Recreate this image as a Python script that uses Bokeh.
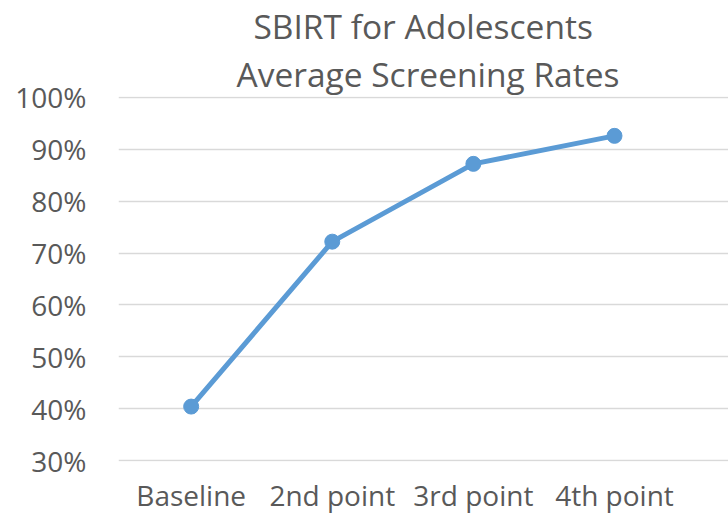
from bokeh.plotting import figure
from bokeh.models import FixedTicker, NumeralTickFormatter, Range1d, ColumnDataSource, Title
from bokeh.embed import file_html
from bokeh.resources import INLINE

categories = ["Baseline", "2nd point", "3rd point", "4th point"]
rates = [0.404, 0.722, 0.872, 0.926]
y_ticks = [0.3, 0.4, 0.5, 0.6, 0.7, 0.8, 0.9, 1.0]
title_lines = ["SBIRT for Adolescents", "Average Screening Rates"]

FONT = "Open Sans"
GREY = "#595959"
BLUE = "#5B9BD5"

xs = list(range(len(categories)))
src = ColumnDataSource(data=dict(x=xs, y=rates, cat=categories))

p = figure(
    output_backend="svg", toolbar_location=None,
    frame_width=610, frame_height=365,
    min_border_left=118, min_border_right=0, min_border_top=0, min_border_bottom=0,
    x_range=Range1d(-0.515, 3.808), y_range=Range1d(0.2981, 1.0019),
    title=None,
)

def make_title(text, offset, standoff):
    return Title(text=text, align="left", offset=offset, standoff=standoff,
                 text_font=FONT, text_font_size="33.5px", text_font_style="normal",
                 text_color=GREY, text_line_height=0.88)

# added nearest-first: second line sits closest to the plot
p.add_layout(make_title(title_lines[1], 118, 0), "above")
p.add_layout(make_title(title_lines[0], 135, 0), "above")

p.line("x", "y", source=src, line_color=BLUE, line_width=5)
p.scatter("x", "y", source=src, size=15, fill_color=BLUE, line_color=BLUE)

p.yaxis.ticker = FixedTicker(ticks=y_ticks)
p.yaxis.formatter = NumeralTickFormatter(format="0%")
p.xaxis.ticker = FixedTicker(ticks=xs)
p.xaxis.major_label_overrides = {i: c for i, c in zip(xs, categories)}

for ax in (p.xaxis, p.yaxis):
    ax.axis_line_color = None
    ax.major_tick_line_color = None
    ax.minor_tick_line_color = None
    ax.major_label_text_font = FONT
    ax.major_label_text_font_size = "28px"
    ax.major_label_text_color = GREY
p.yaxis.major_label_standoff = 26
p.xaxis.major_label_standoff = 8

p.xgrid.grid_line_color = None
p.ygrid.ticker = FixedTicker(ticks=y_ticks)
p.ygrid.grid_line_color = "#D9D9D9"
p.ygrid.grid_line_width = 1.5
p.outline_line_color = None

open("out.html", "w").write(file_html(p, INLINE))
